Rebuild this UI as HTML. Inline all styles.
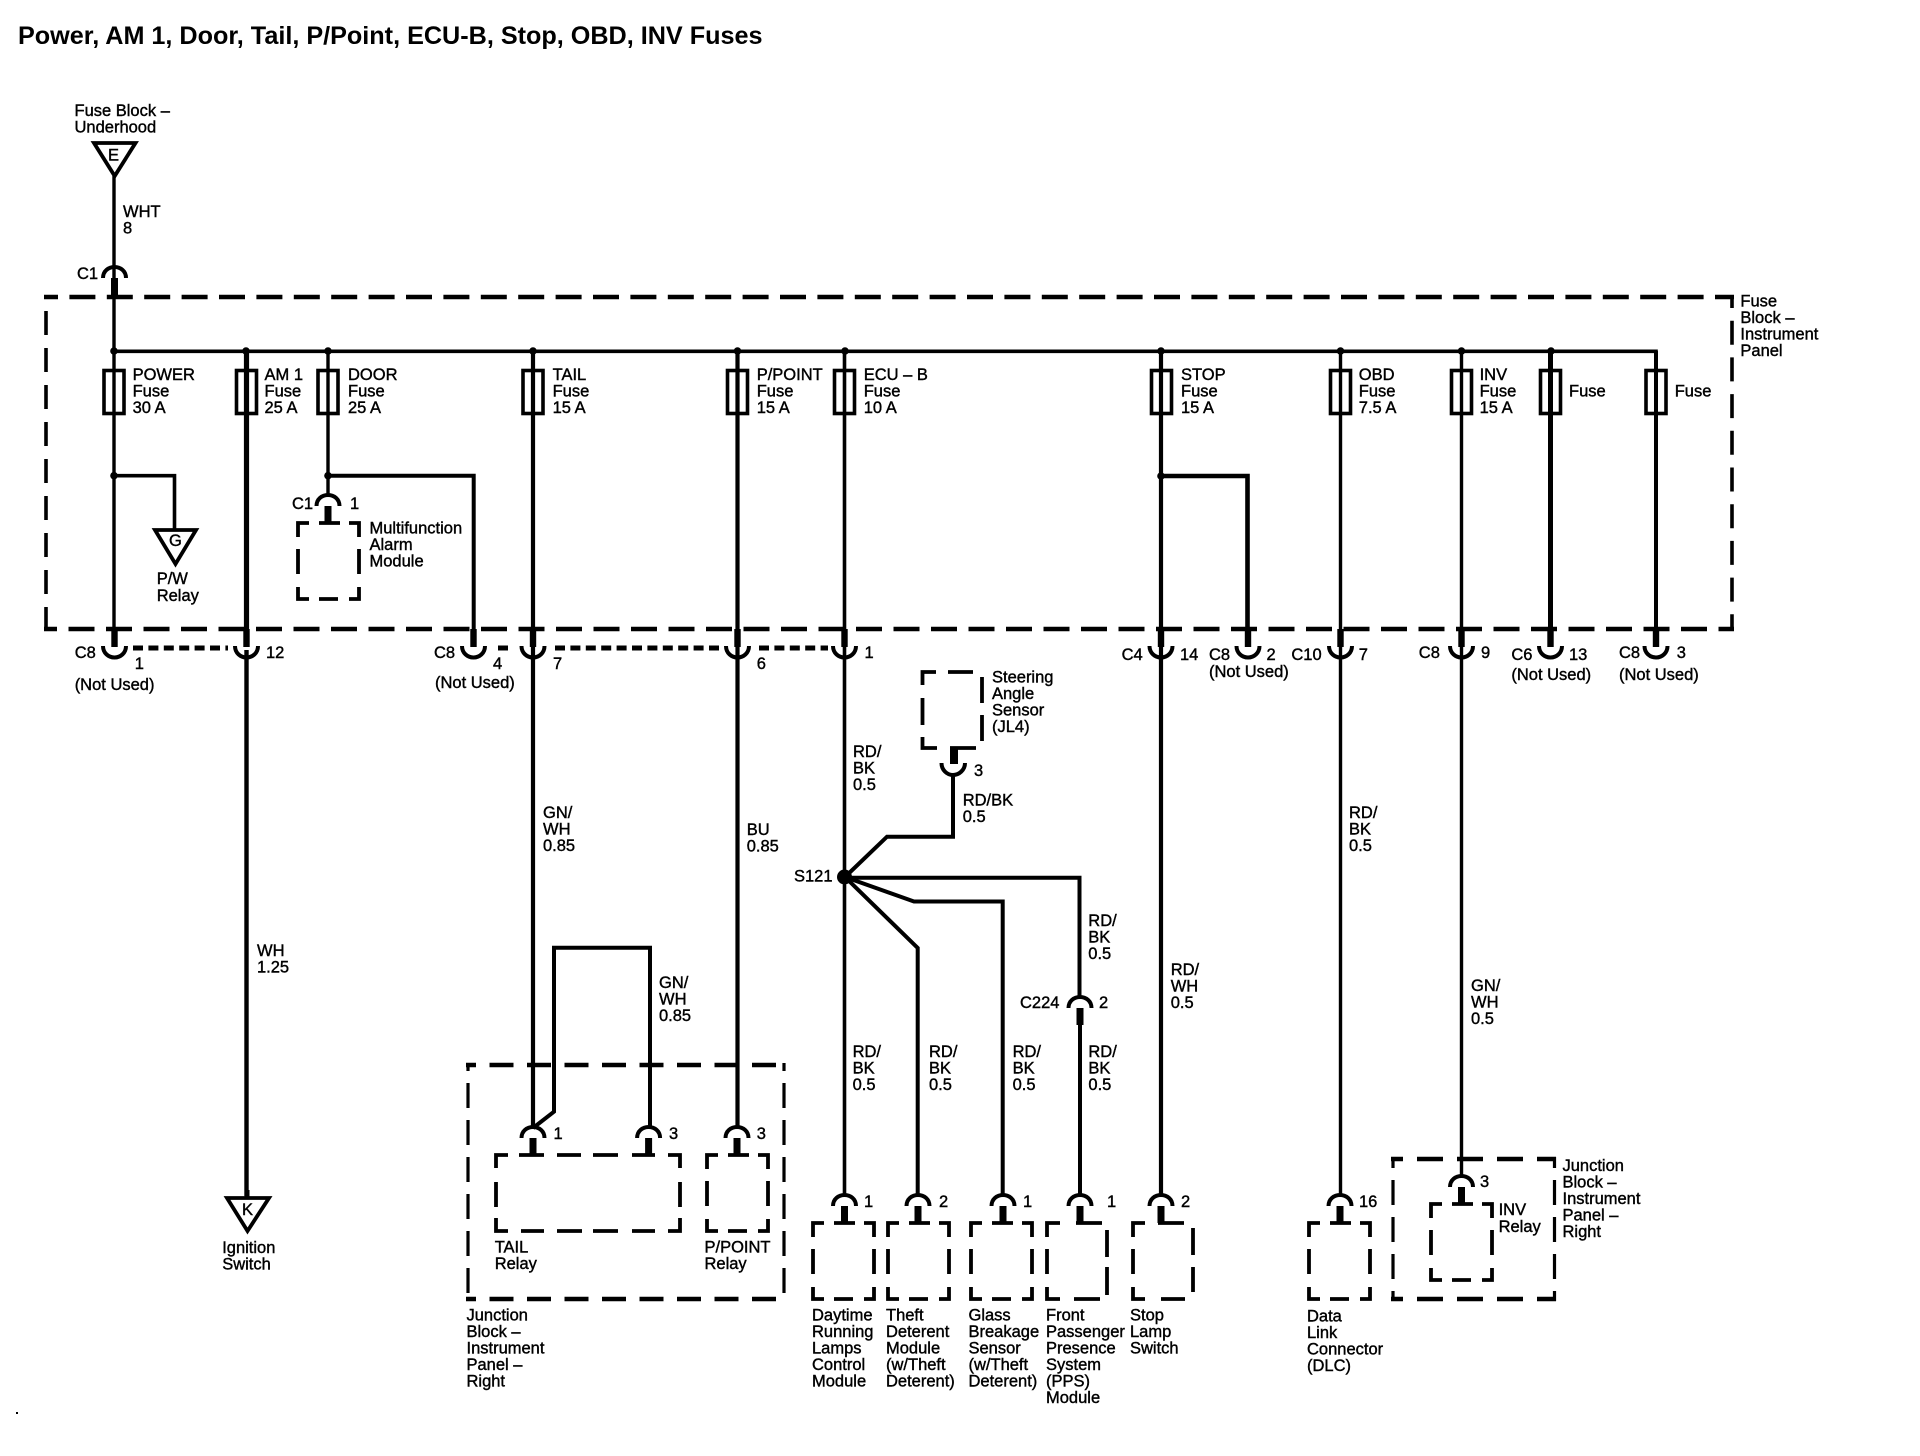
<!DOCTYPE html>
<html><head><meta charset="utf-8"><title>Power, AM 1, Door, Tail, P/Point, ECU-B, Stop, OBD, INV Fuses</title>
<style>
html,body{margin:0;padding:0;background:#fff}
svg{display:block}
text{font-family:"Liberation Sans",Arial,sans-serif;font-size:16.5px;fill:#000;stroke:#000;stroke-width:.4}
.t{font-size:25.2px;font-weight:bold;stroke:none}
.w{fill:none;stroke:#000;stroke-linejoin:miter}
</style></head><body>
<svg xmlns="http://www.w3.org/2000/svg" width="1920" height="1456" viewBox="0 0 1920 1456">
<defs>
<g id="d"><path class="w" stroke-width="4" d="M-11.5 11C-11.5 4-6 0 0 0C6 0 11.5 4 11.5 11"/><rect x="-3.5" y="11" width="7" height="17"/></g>
<g id="c"><rect x="-3.2" y="-17" width="6.4" height="18"/><path class="w" stroke-width="4" d="M-11.5 0C-11.5 7-6 11.5 0 11.5C6 11.5 11.5 7 11.5 0"/></g>
<path id="bx" class="w" stroke-width="3.8" d="M0 14V0H11M21 0H42M51 0H61V14M0 26V51M61 26V51M0 64V76H11M21 76H40M51 76H61V64"/>
<rect id="f" x="-10" y="0" width="20" height="43" fill="none" stroke="#000" stroke-width="3.6"/>
</defs>
<rect width="1920" height="1456" fill="#fff"/>
<text class="t" x="18" y="44">Power, AM 1, Door, Tail, P/Point, ECU-B, Stop, OBD, INV Fuses</text>
<rect x="16" y="1412" width="2" height="2"/>

<!-- outer dashed box -->
<path class="w" stroke-width="4.6" stroke-dasharray="26 11.4" stroke-dashoffset="12" d="M44 297H1734"/>
<path class="w" stroke-width="4.6" stroke-dasharray="26 11.5" stroke-dashoffset="13" d="M44 629H1734"/>
<path class="w" stroke-width="3.6" stroke-dasharray="24 13" stroke-dashoffset="23" d="M46 297V631"/>
<path class="w" stroke-width="3.6" stroke-dasharray="24 12.7" stroke-dashoffset="13" d="M1732 297V631"/>

<!-- top feed -->
<path class="w" stroke-width="3.4" d="M114 176V351"/>
<path d="M94 143H135.5L114.7 176Z" fill="none" stroke="#000" stroke-width="3.8"/>
<text x="108" y="160.5">E</text>
<use href="#d" x="114.5" y="267"/><rect x="111.3" y="278" width="6.4" height="20"/>
<text x="77" y="279">C1</text>
<text x="74.5" y="116">Fuse Block –<tspan x="74.5" dy="16.5">Underhood</tspan></text>
<text x="123" y="217">WHT<tspan x="123" dy="16.5">8</tspan></text>

<!-- bus -->
<path class="w" stroke-width="3.6" d="M114 351.3H1656V372"/>
<g>
<circle cx="114" cy="351" r="3.8"/><circle cx="246" cy="351" r="3.8"/><circle cx="328" cy="351" r="3.8"/><circle cx="533" cy="351" r="3.8"/><circle cx="737.5" cy="351" r="3.8"/><circle cx="845" cy="351" r="3.8"/><circle cx="1161" cy="351" r="3.8"/><circle cx="1340.5" cy="351" r="3.8"/><circle cx="1461.5" cy="351" r="3.8"/><circle cx="1551" cy="351" r="3.8"/>
</g>

<!-- fuses -->
<use href="#f" x="114" y="370.5"/><use href="#f" x="246.5" y="370.5"/><use href="#f" x="328" y="370.5"/><use href="#f" x="533" y="370.5"/><use href="#f" x="737.5" y="370.5"/><use href="#f" x="844.5" y="370.5"/><use href="#f" x="1161.5" y="370.5"/><use href="#f" x="1340.5" y="370.5"/><use href="#f" x="1461.5" y="370.5"/><use href="#f" x="1550.5" y="370.5"/><use href="#f" x="1656" y="370.5"/>
<text x="132.6" y="380">POWER<tspan x="132.6" dy="16.5">Fuse</tspan><tspan x="132.6" dy="16.5">30 A</tspan></text>
<text x="264.5" y="380">AM 1<tspan x="264.5" dy="16.5">Fuse</tspan><tspan x="264.5" dy="16.5">25 A</tspan></text>
<text x="348" y="380">DOOR<tspan x="348" dy="16.5">Fuse</tspan><tspan x="348" dy="16.5">25 A</tspan></text>
<text x="552.6" y="380">TAIL<tspan x="552.6" dy="16.5">Fuse</tspan><tspan x="552.6" dy="16.5">15 A</tspan></text>
<text x="756.7" y="380">P/POINT<tspan x="756.7" dy="16.5">Fuse</tspan><tspan x="756.7" dy="16.5">15 A</tspan></text>
<text x="863.7" y="380">ECU – B<tspan x="863.7" dy="16.5">Fuse</tspan><tspan x="863.7" dy="16.5">10 A</tspan></text>
<text x="1181" y="380">STOP<tspan x="1181" dy="16.5">Fuse</tspan><tspan x="1181" dy="16.5">15 A</tspan></text>
<text x="1358.8" y="380">OBD<tspan x="1358.8" dy="16.5">Fuse</tspan><tspan x="1358.8" dy="16.5">7.5 A</tspan></text>
<text x="1479.6" y="380">INV<tspan x="1479.6" dy="16.5">Fuse</tspan><tspan x="1479.6" dy="16.5">15 A</tspan></text>
<text x="1569" y="396.5">Fuse</text>
<text x="1674.7" y="396.5">Fuse</text>
<text x="1740.4" y="306.7">Fuse<tspan x="1740.4" dy="16.5">Block –</tspan><tspan x="1740.4" dy="16.5">Instrument</tspan><tspan x="1740.4" dy="16.5">Panel</tspan></text>

<!-- vertical wires inside panel and below -->
<path class="w" stroke-width="3.4" d="M114 351V630"/>
<path class="w" stroke-width="5.2" d="M246.5 351V630"/>
<path class="w" stroke-width="3.4" d="M328 351V496"/>
<path class="w" stroke-width="4.2" d="M533 351V1128"/>
<path class="w" stroke-width="4.2" d="M737.5 351V1128"/>
<path class="w" stroke-width="3.6" d="M844.5 351V1196"/>
<path class="w" stroke-width="4.2" d="M1161 351V1196"/>
<path class="w" stroke-width="3.4" d="M1340.5 351V1196"/>
<path class="w" stroke-width="3.4" d="M1461.5 351V1177"/>
<path class="w" stroke-width="5" d="M1550.5 351V630"/>
<path class="w" stroke-width="4" d="M1656 351V630"/>
<path class="w" stroke-width="4.4" d="M246.5 650V1196"/>

<!-- branches -->
<circle cx="114" cy="475.7" r="3.8"/><path class="w" stroke-width="3.6" d="M114 475.7H174.5V530"/>
<circle cx="328" cy="475.7" r="3.8"/><path class="w" stroke-width="4" d="M328 475.7H473.7V630"/>
<circle cx="1161" cy="476" r="3.8"/><path class="w" stroke-width="4.6" d="M1161 476H1247.5V630"/>

<!-- G triangle -->
<path d="M155 530H196L175.5 564Z" fill="none" stroke="#000" stroke-width="3.8"/>
<text x="169" y="546">G</text>
<text x="156.7" y="584">P/W<tspan x="156.7" dy="17">Relay</tspan></text>

<!-- Multifunction -->
<use href="#d" x="328" y="495"/>
<use href="#bx" x="298" y="523"/>
<text x="292" y="509">C1</text>
<text x="350" y="509">1</text>
<text x="369.5" y="533.5">Multifunction<tspan x="369.5" dy="16.5">Alarm</tspan><tspan x="369.5" dy="16.5">Module</tspan></text>

<!-- cups -->
<use href="#c" x="114.5" y="646"/><use href="#c" x="246.5" y="646"/><use href="#c" x="473.5" y="646"/><use href="#c" x="533" y="646"/><use href="#c" x="737.5" y="646"/><use href="#c" x="844.5" y="646"/><use href="#c" x="1161" y="646"/><use href="#c" x="1248" y="646"/><use href="#c" x="1340.5" y="646"/><use href="#c" x="1461.5" y="646"/><use href="#c" x="1550.5" y="646"/><use href="#c" x="1656" y="646"/>
<!-- dotted -->
<path class="w" stroke-width="5" stroke-dasharray="10 5.4" d="M133 648H228M498 648H511M555 648H720M759 648H828"/>

<!-- cup labels -->
<text x="74.7" y="658">C8</text><text x="134.7" y="669">1</text><text x="74.7" y="690">(Not Used)</text>
<text x="266" y="658">12</text>
<text x="434" y="658">C8</text><text x="493" y="669">4</text><text x="435" y="688">(Not Used)</text>
<text x="553" y="669">7</text><text x="756.7" y="669">6</text><text x="864.5" y="658">1</text>
<text x="1121.6" y="660">C4</text><text x="1180" y="660">14</text>
<text x="1209" y="660">C8</text><text x="1266.5" y="660">2</text><text x="1209" y="677">(Not Used)</text>
<text x="1291.4" y="660">C10</text><text x="1358.8" y="660">7</text>
<text x="1418.8" y="658">C8</text><text x="1481" y="658">9</text>
<text x="1511.4" y="660">C6</text><text x="1569" y="660">13</text><text x="1511.4" y="680">(Not Used)</text>
<text x="1619" y="658">C8</text><text x="1676.7" y="658">3</text><text x="1619" y="680">(Not Used)</text>

<!-- wire labels -->
<text x="257" y="956">WH<tspan x="257" dy="16.5">1.25</tspan></text>
<text x="543" y="818">GN/<tspan x="543" dy="16.5">WH</tspan><tspan x="543" dy="16.5">0.85</tspan></text>
<text x="746.7" y="835">BU<tspan x="746.7" dy="16.5">0.85</tspan></text>
<text x="659" y="988">GN/<tspan x="659" dy="16.5">WH</tspan><tspan x="659" dy="16.5">0.85</tspan></text>
<text x="853" y="757">RD/<tspan x="853" dy="16.5">BK</tspan><tspan x="853" dy="16.5">0.5</tspan></text>
<text x="1170.7" y="975">RD/<tspan x="1170.7" dy="16.5">WH</tspan><tspan x="1170.7" dy="16.5">0.5</tspan></text>
<text x="1349" y="818">RD/<tspan x="1349" dy="16.5">BK</tspan><tspan x="1349" dy="16.5">0.5</tspan></text>
<text x="1471" y="991">GN/<tspan x="1471" dy="16.5">WH</tspan><tspan x="1471" dy="16.5">0.5</tspan></text>
<text x="852.6" y="1057">RD/<tspan x="852.6" dy="16.5">BK</tspan><tspan x="852.6" dy="16.5">0.5</tspan></text>
<text x="929" y="1057">RD/<tspan x="929" dy="16.5">BK</tspan><tspan x="929" dy="16.5">0.5</tspan></text>
<text x="1012.6" y="1057">RD/<tspan x="1012.6" dy="16.5">BK</tspan><tspan x="1012.6" dy="16.5">0.5</tspan></text>
<text x="1088.4" y="1057">RD/<tspan x="1088.4" dy="16.5">BK</tspan><tspan x="1088.4" dy="16.5">0.5</tspan></text>
<text x="1088.3" y="926">RD/<tspan x="1088.3" dy="16.5">BK</tspan><tspan x="1088.3" dy="16.5">0.5</tspan></text>
<text x="962.7" y="805.7">RD/BK<tspan x="962.7" dy="16.5">0.5</tspan></text>

<!-- K -->
<path d="M227 1198H269L247.5 1231Z" fill="none" stroke="#000" stroke-width="3.8"/>
<rect x="244.5" y="1190" width="5" height="7" fill="#000"/>
<text x="242" y="1215">K</text>
<text x="222.2" y="1253">Ignition<tspan x="222.2" dy="16.5">Switch</tspan></text>

<!-- Steering -->
<path class="w" stroke-width="3.8" d="M922.5 685V672H936M948 672H973M982 677V703M982 715V741M922.5 698V725M922.5 737V748H937M950 748H976"/>
<rect x="950" y="748" width="8" height="16"/>
<path class="w" stroke-width="4" d="M941.5 763C941.5 770 947 775 953 775C959 775 965 770 965 763"/>
<text x="992" y="682.7">Steering<tspan x="992" dy="16.5">Angle</tspan><tspan x="992" dy="16.5">Sensor</tspan><tspan x="992" dy="16.5">(JL4)</tspan></text>
<text x="974" y="776">3</text>

<!-- S121 -->
<path class="w" stroke-width="4" d="M953 775V836.7H887L845 877"/>
<path class="w" stroke-width="4" d="M845 877.7H1079.5V998"/>
<path class="w" stroke-width="4" d="M845 877L914 901.5H1002.7V1196"/>
<path class="w" stroke-width="4" d="M845 877L917.7 948V1196"/>
<circle cx="844.5" cy="877" r="7.5"/>
<text x="794" y="881.7">S121</text>
<use href="#d" x="1080" y="997"/>
<path class="w" stroke-width="4" d="M1080 1025V1196"/>
<text x="1020" y="1008">C224</text><text x="1099" y="1008">2</text>

<!-- tail loop -->
<path class="w" stroke-width="4" d="M533 1128L554 1111.7V947.7H650V1128"/>

<!-- junction block 1 -->
<path class="w" stroke-width="4.6" stroke-dasharray="24 13.5" stroke-dashoffset="14" d="M466 1065H786"/>
<path class="w" stroke-width="4.6" stroke-dasharray="24 13.5" stroke-dashoffset="14" d="M466 1299H786"/>
<path class="w" stroke-width="3.2" stroke-dasharray="25 12" stroke-dashoffset="17" d="M468 1063V1301"/>
<path class="w" stroke-width="3.2" stroke-dasharray="25 12" stroke-dashoffset="17" d="M784 1063V1301"/>
<use href="#d" x="533" y="1127"/><use href="#d" x="648.6" y="1127"/><use href="#d" x="737" y="1127"/>
<text x="553.5" y="1139">1</text><text x="669" y="1139">3</text><text x="756.7" y="1139">3</text>
<path class="w" stroke-width="3.8" d="M496 1168V1155H508M519 1155H544M557 1155H581M593 1155H618M632 1155H655M668 1155H680V1168M496 1182V1207M680 1182V1207M496 1218V1231H508M521 1231H544M557 1231H582M593 1231H618M632 1231H655M668 1231H680V1218"/>
<use href="#bx" x="707" y="1155"/>
<text x="494.7" y="1252.7">TAIL<tspan x="494.7" dy="16.5">Relay</tspan></text>
<text x="704.5" y="1252.7">P/POINT<tspan x="704.5" dy="16.5">Relay</tspan></text>
<text x="466.5" y="1320.7">Junction<tspan x="466.5" dy="16.5">Block –</tspan><tspan x="466.5" dy="16.5">Instrument</tspan><tspan x="466.5" dy="16.5">Panel –</tspan><tspan x="466.5" dy="16.5">Right</tspan></text>

<!-- modules -->
<use href="#d" x="844.5" y="1195"/><use href="#bx" x="813" y="1223"/>
<use href="#d" x="918" y="1195"/><use href="#bx" x="888" y="1223"/>
<use href="#d" x="1003" y="1195"/><use href="#bx" x="971" y="1223"/>
<use href="#d" x="1080" y="1195"/>
<use href="#d" x="1161" y="1195"/>
<use href="#d" x="1340" y="1195"/><use href="#bx" x="1309" y="1223"/>
<path class="w" stroke-width="3.8" d="M1047 1237V1223H1060M1076 1223H1102M1107 1230V1257M1107 1267V1295M1047 1249V1274M1047 1287V1299H1060M1074 1299H1100"/>
<path class="w" stroke-width="3.8" d="M1133 1237V1223H1145M1158 1223H1184M1193 1228V1255M1193 1267V1292M1133 1249V1274M1133 1287V1299H1145M1161 1299H1185"/>
<text x="864" y="1207">1</text><text x="939" y="1207">2</text><text x="1023" y="1207">1</text><text x="1107" y="1207">1</text><text x="1181" y="1207">2</text><text x="1359" y="1207">16</text>
<text x="812" y="1320.7">Daytime<tspan x="812" dy="16.5">Running</tspan><tspan x="812" dy="16.5">Lamps</tspan><tspan x="812" dy="16.5">Control</tspan><tspan x="812" dy="16.5">Module</tspan></text>
<text x="886" y="1320.7">Theft<tspan x="886" dy="16.5">Deterent</tspan><tspan x="886" dy="16.5">Module</tspan><tspan x="886" dy="16.5">(w/Theft</tspan><tspan x="886" dy="16.5">Deterent)</tspan></text>
<text x="968.5" y="1320.7">Glass<tspan x="968.5" dy="16.5">Breakage</tspan><tspan x="968.5" dy="16.5">Sensor</tspan><tspan x="968.5" dy="16.5">(w/Theft</tspan><tspan x="968.5" dy="16.5">Deterent)</tspan></text>
<text x="1046" y="1320.7">Front<tspan x="1046" dy="16.5">Passenger</tspan><tspan x="1046" dy="16.5">Presence</tspan><tspan x="1046" dy="16.5">System</tspan><tspan x="1046" dy="16.5">(PPS)</tspan><tspan x="1046" dy="16.5">Module</tspan></text>
<text x="1130" y="1320.7">Stop<tspan x="1130" dy="16.5">Lamp</tspan><tspan x="1130" dy="16.5">Switch</tspan></text>
<text x="1307" y="1321.7">Data<tspan x="1307" dy="16.5">Link</tspan><tspan x="1307" dy="16.5">Connector</tspan><tspan x="1307" dy="16.5">(DLC)</tspan></text>

<!-- INV -->
<path class="w" stroke-width="4.6" stroke-dasharray="26 14" stroke-dashoffset="14" d="M1391 1159H1556"/>
<path class="w" stroke-width="4.6" stroke-dasharray="26 14" stroke-dashoffset="14" d="M1391 1299H1556"/>
<path class="w" stroke-width="3.2" stroke-dasharray="25 12" stroke-dashoffset="14" d="M1393 1157V1301"/>
<path class="w" stroke-width="3.2" stroke-dasharray="25 12" stroke-dashoffset="14" d="M1554.5 1157V1301"/>
<use href="#d" x="1461.5" y="1176"/><use href="#bx" x="1431" y="1204"/>
<text x="1480" y="1187">3</text>
<text x="1498.6" y="1215">INV<tspan x="1498.6" dy="17">Relay</tspan></text>
<text x="1562.5" y="1171">Junction<tspan x="1562.5" dy="16.5">Block –</tspan><tspan x="1562.5" dy="16.5">Instrument</tspan><tspan x="1562.5" dy="16.5">Panel –</tspan><tspan x="1562.5" dy="16.5">Right</tspan></text>
</svg>
</body></html>
